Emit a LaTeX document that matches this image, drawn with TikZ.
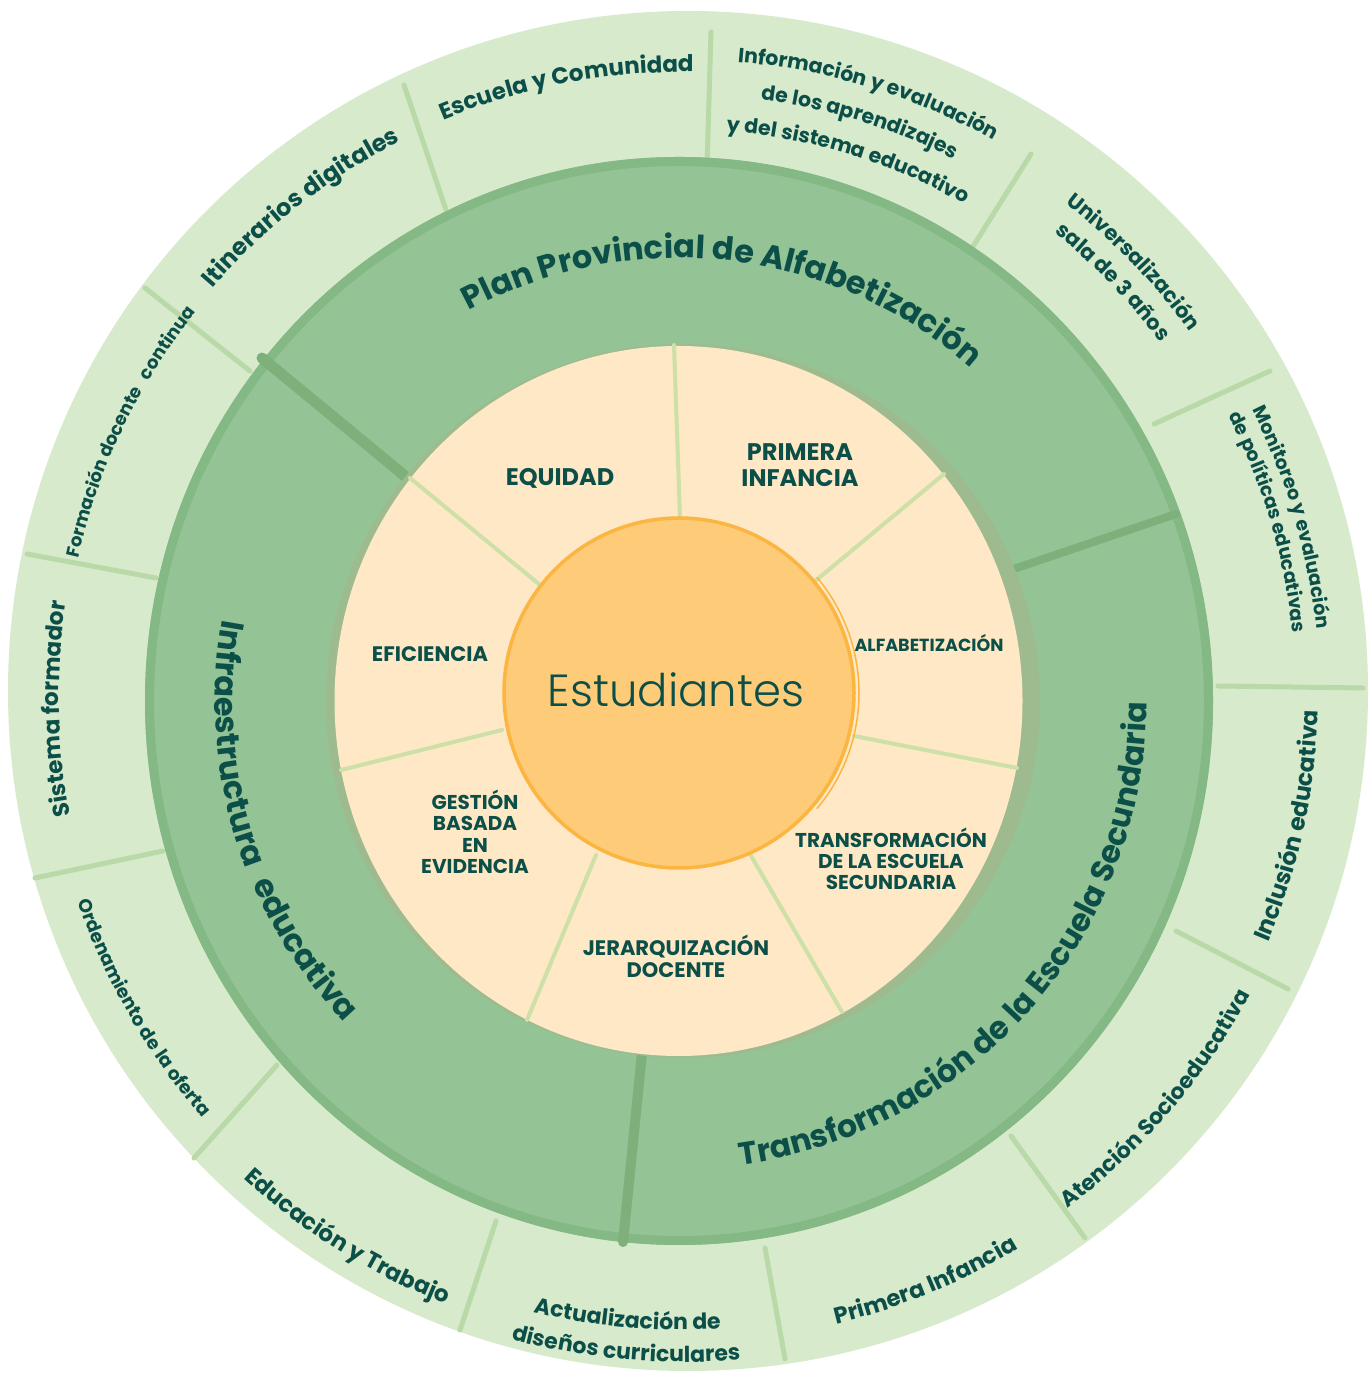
\documentclass[tikz,border=0pt]{standalone}
\usepackage{fontspec}
\setmainfont{Poppins}
\IfFontExistsTF{Poppins Light}{\newfontfamily\lightf{Poppins Light}}{\newfontfamily\lightf{Poppins}}
\usetikzlibrary{decorations.text}
\definecolor{tx}{HTML}{0C4F49}
\definecolor{outerg}{HTML}{D7EACC}
\definecolor{outerdiv}{HTML}{B9D9A8}
\definecolor{ringg}{HTML}{94C495}
\definecolor{ringedge}{HTML}{84B884}
\definecolor{ringdark}{HTML}{7DB07A}
\definecolor{grayr}{HTML}{9EBB8F}
\definecolor{peach}{HTML}{FFE8C5}
\definecolor{spoke}{HTML}{CDE0A8}
\definecolor{orf}{HTML}{FECB79}
\definecolor{orb}{HTML}{FBB540}
% clockwise arc text (tops outward): #1 centre, #2 mid angle, #3 baseline radius, #4 size, #5 text
\newcommand\cwtext[5]{%
  \path[shift={(#1)}, decorate, decoration={text along path, text align=center,
    text={|\fontsize{#4}{#4}\selectfont\bfseries\color{tx}|#5}}]
    (#2+80:#3) arc[start angle=#2+80, end angle=#2-80, radius=#3];}
% counter-clockwise arc text (tops inward)
\newcommand\ccwtext[5]{%
  \path[shift={(#1)}, decorate, decoration={text along path, text align=center,
    text={|\fontsize{#4}{#4}\selectfont\bfseries\color{tx}|#5}}]
    (#2-80:#3) arc[start angle=#2-80, end angle=#2+80, radius=#3];}
\tikzset{
  odiv/.style={draw=outerdiv, line width=5, line cap=round},
  ddiv/.style={draw=ringdark, line cap=round},
  spk/.style={draw=spoke, line width=4, line cap=round},
  plab/.style={text=tx, align=center, inner sep=0pt}
}
\begin{document}
\begin{tikzpicture}[x=1pt,y=1pt]
\useasboundingbox (0,0) rectangle (1370,1378);
\fill[white] (0,0) rectangle (1370,1378);
\coordinate (Co) at (688,687);
\coordinate (Cd) at (679,677);
\coordinate (Cl) at (684,682);
\coordinate (Cp) at (678.5,677);
\coordinate (Cg) at (683,677);
\coordinate (Cs) at (679,685);
% outer ring
\fill[outerg] (Co) circle[radius=680];
\draw[odiv] (446,1168) -- (404,1293);
\draw[odiv] (706,1178) -- (711,1346);
\draw[odiv] (957,1106) -- (1031,1224);
\draw[odiv] (1154,954) -- (1270,1007);
\draw[odiv] (1218,692) -- (1363,690);
\draw[odiv] (1176,447) -- (1288,389);
\draw[odiv] (1011,242) -- (1085,140);
\draw[odiv] (765,130) -- (785,19);
\draw[odiv] (496,157) -- (460,48);
\draw[odiv] (277,313) -- (194,220);
\draw[odiv] (163,527) -- (35,500);
\draw[odiv] (156,800) -- (27,824);
\draw[odiv] (250,1007) -- (145,1090);
% middle ring
\fill[ringg] (Cd) ellipse[x radius=534, y radius=544];
\draw[ringedge, line width=9] (Cd) ellipse[x radius=529.5, y radius=539.5];
\draw[ddiv, line width=11] (262,1020) -- (405,902);
\draw[ddiv, line width=8] (1176,864) -- (1005,806);
\draw[ddiv, line width=10] (623,136) -- (642,325);
% inner ring
\fill[grayr] (Cg) circle[radius=357];
\fill[peach] (Cp) ellipse[x radius=344, y radius=355];
\draw[spk] (680,860) -- (674,1033);
\draw[spk] (814,796) -- (944,904);
\draw[spk] (854,642) -- (1017,610);
\draw[spk] (750,524) -- (842,366);
\draw[spk] (596,523) -- (527,358);
\draw[spk] (502,648) -- (341,608);
\draw[spk] (540,793) -- (410,900);
% centre
\fill[orf] (Cs) circle[radius=176];
\draw[orb, line width=3.5] (Cs) circle[radius=175];
\draw[orb, line width=1.5] ([shift={(-40:180)}]Cs) arc[start angle=-40, end angle=40, radius=180];
\node[plab, font=\lightf\fontsize{45}{50}\selectfont] (estud) at (676,688) {Estudiantes};
% inner labels
\node[plab, font=\bfseries\fontsize{24}{26}\selectfont] (equidad) at (560,900) {EQUIDAD};
\node[plab, font=\bfseries\fontsize{24}{26}\selectfont] (primera) at (800,913) {PRIMERA\\INFANCIA};
\node[plab, font=\bfseries\fontsize{17.5}{20}\selectfont] (alfab) at (929,735) {ALFABETIZACIÓN};
\node[plab, font=\bfseries\fontsize{21}{22}\selectfont] (efic) at (430,724) {EFICIENCIA};
\node[plab, font=\bfseries\fontsize{20}{21.5}\selectfont] (gestion) at (475,546) {GESTIÓN\\BASADA\\EN\\EVIDENCIA};
\node[plab, font=\bfseries\fontsize{21}{22}\selectfont] (jerarq) at (676,422) {JERARQUIZACIÓN\\DOCENTE};
\node[plab, font=\bfseries\fontsize{20}{21}\selectfont] (transf) at (891,519) {TRANSFORMACIÓN\\DE LA ESCUELA\\SECUNDARIA};
% middle ring labels
\cwtext{Cd}{83.5}{443}{32}{Plan Provincial de Alfabetización}
\ccwtext{Cd}{196.9}{464}{32}{Infraestructura {\kern9pt}educativa}
\ccwtext{Cd}{-41.3}{468}{31.5}{Transformación de la Escuela Secundaria}
% outer ring labels
\cwtext{Cl}{128.1}{623}{24}{Itinerarios digitales}
\cwtext{Cl}{100.9}{624}{23}{Escuela y Comunidad}
\cwtext{Cl}{73.0}{636}{20.5}{Información y evaluación}
\cwtext{Cl}{73.0}{601}{20.5}{de los aprendizajes}
\cwtext{Cl}{73.0}{566}{20.5}{y del sistema educativo}
\cwtext{Cl}{44.0}{623}{21}{Universalización}
\cwtext{Cl}{44.0}{593}{21}{sala de 3 años}
\cwtext{Cl}{16.4}{636}{19}{Monitoreo y evaluación}
\cwtext{Cl}{16.6}{612}{19}{de políticas educativas}
\ccwtext{Cl}{-12.1}{634}{23.5}{Inclusión educativa}
\ccwtext{Cl}{-40.5}{640}{22}{Atención Socioeducativa}
\ccwtext{Cl}{-67.6}{646}{23}{Primera Infancia}
\ccwtext{Cl}{-95.2}{634}{22}{Actualización de}
\ccwtext{Cl}{-95.1}{666}{22}{diseños curriculares}
\ccwtext{Cl}{238.1}{653}{23}{Educación y Trabajo}
\ccwtext{Cl}{210.0}{640}{18.5}{Ordenamiento de la oferta}
\cwtext{Cl}{181.2}{625}{23}{Sistema formador}
\cwtext{Cl}{154.5}{621}{18}{Formación docente {\kern7pt}continua}
\end{tikzpicture}
\end{document}
